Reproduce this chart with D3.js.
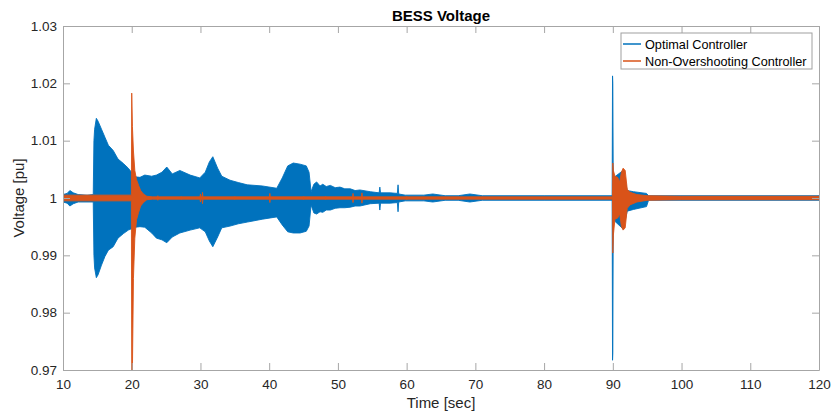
<!DOCTYPE html>
<html>
<head>
<meta charset="utf-8">
<script src="https://cdn.jsdelivr.net/npm/d3@7"></script>
<style>
  html, body { margin: 0; padding: 0; background: #fff; }
  svg { display: block; font-family: "Liberation Sans", Arial, sans-serif; }
</style>
</head>
<body>
<svg id="chart" width="835" height="417"></svg>
<script>
// Envelope of each controller's BESS voltage: [time (s), upper (pu), lower (pu)]
const optimalEnvelope = [
  [10.0, 1.0006, 0.9993], [10.6, 1.0008, 0.9991], [11.0, 1.0013, 0.9986], [11.5, 1.0009, 0.9990],
  [12.2, 1.0006, 0.9993], [13.5, 1.0005, 0.9993], [14.4, 1.0006, 0.9993], [14.5, 1.0100, 0.9900],
  [14.6, 1.0120, 0.9878], [14.85, 1.0139, 0.9861], [15.1, 1.0134, 0.9866], [15.6, 1.0120, 0.9883],
  [16.1, 1.0106, 0.9898], [16.6, 1.0092, 0.9909], [17.3, 1.0083, 0.9915], [18.0, 1.0068, 0.9930],
  [18.8, 1.0060, 0.9938], [19.5, 1.0052, 0.9944], [20.5, 1.0037, 0.9949], [21.2, 1.0036, 0.9950],
  [21.9, 1.0040, 0.9949], [22.9, 1.0038, 0.9939], [23.6, 1.0040, 0.9930], [24.4, 1.0045, 0.9927],
  [25.1, 1.0054, 0.9922], [25.9, 1.0042, 0.9932], [27.0, 1.0048, 0.9939], [28.5, 1.0040, 0.9944],
  [29.9, 1.0035, 0.9948], [30.7, 1.0045, 0.9941], [31.3, 1.0063, 0.9925], [31.8, 1.0072, 0.9915],
  [32.5, 1.0052, 0.9932], [33.1, 1.0038, 0.9948], [34.3, 1.0031, 0.9951], [35.5, 1.0027, 0.9955],
  [36.8, 1.0023, 0.9958], [39.0, 1.0021, 0.9963], [41.1, 1.0017, 0.9967], [41.9, 1.0035, 0.9953],
  [42.7, 1.0056, 0.9941], [43.5, 1.0061, 0.9939], [44.5, 1.0059, 0.9939], [45.4, 1.0056, 0.9942],
  [45.8, 1.0045, 0.9951], [46.1, 1.0011, 0.9988], [46.5, 1.0024, 0.9974], [46.9, 1.0028, 0.9972],
  [47.4, 1.0021, 0.9976], [47.8, 1.0024, 0.9975], [48.3, 1.0020, 0.9979], [48.9, 1.0022, 0.9979],
  [49.6, 1.0018, 0.9982], [50.3, 1.0019, 0.9983], [51.0, 1.0016, 0.9983], [51.8, 1.0016, 0.9984],
  [52.5, 1.0013, 0.9986], [53.2, 1.0014, 0.9986], [54.7, 1.0011, 0.9990], [56.0, 1.0009, 0.9991],
  [56.1, 1.0019, 0.9979], [56.2, 1.0009, 0.9991], [57.6, 1.0009, 0.9991], [58.65, 1.0008, 0.9992],
  [58.75, 1.0023, 0.9976], [58.85, 1.0007, 0.9993], [59.8, 1.0005, 0.9995], [62.5, 1.0005, 0.9995],
  [63.8, 1.0007, 0.9993], [65.6, 1.0004, 0.9996], [67.5, 1.0004, 0.9996], [69.2, 1.0007, 0.9993],
  [71.0, 1.0004, 0.9996], [80.0, 1.0004, 0.9996], [89.9, 1.0004, 0.9996], [89.96, 1.0213, 0.9717],
  [90.0, 1.0200, 0.9730], [90.06, 1.0035, 0.9962], [91.5, 1.0048, 0.9946], [92.1, 1.0013, 0.9977],
  [93.0, 1.0011, 0.9980], [94.9, 1.0008, 0.9985], [95.2, 1.0004, 0.9996], [120.0, 1.0004, 0.9996]
];

const nonOvershootingEnvelope = [
  [10.0, 1.0005, 0.9995], [19.95, 1.0005, 0.9995], [20.0, 1.0183, 0.9680], [20.1, 1.0125, 0.9700],
  [20.25, 1.0082, 0.9860], [20.45, 1.0048, 0.9930], [20.7, 1.0032, 0.9962], [21.0, 1.0022, 0.9975],
  [21.3, 1.0013, 0.9986], [21.7, 1.0007, 0.9992], [22.2, 1.0003, 0.9997], [23.0, 1.0002, 0.9998],
  [23.74, 1.0002, 0.9998], [23.8, 1.0004, 0.9996], [23.86, 1.0002, 0.9998],
  [27.14, 1.0002, 0.9998], [27.2, 1.0003, 0.9997], [27.26, 1.0002, 0.9998],
  [29.94, 1.0002, 0.9998], [30.0, 1.0007, 0.9993], [30.06, 1.0002, 0.9998],
  [30.24, 1.0002, 0.9998], [30.3, 1.0010, 0.9990], [30.36, 1.0002, 0.9998],
  [34.94, 1.0002, 0.9998], [35.0, 1.0003, 0.9997], [35.06, 1.0002, 0.9998],
  [40.04, 1.0002, 0.9998], [40.1, 1.0008, 0.9992], [40.16, 1.0002, 0.9998],
  [44.94, 1.0002, 0.9998], [45.0, 1.0003, 0.9997], [45.06, 1.0002, 0.9998],
  [48.14, 1.0002, 0.9998], [48.2, 1.0003, 0.9997], [48.26, 1.0002, 0.9998],
  [52.14, 1.0002, 0.9998], [52.2, 1.0008, 0.9992], [52.26, 1.0002, 0.9998],
  [53.44, 1.0002, 0.9998], [53.5, 1.0009, 0.9991], [53.56, 1.0002, 0.9998],
  [59.94, 1.0002, 0.9998], [60.0, 1.0003, 0.9997], [60.06, 1.0002, 0.9998],
  [89.95, 1.0002, 0.9998], [90.0, 1.0061, 0.9904], [90.08, 1.0048, 0.9935], [90.3, 1.0038, 0.9963],
  [90.7, 1.0036, 0.9965], [91.0, 1.0028, 0.9972], [91.25, 1.0045, 0.9950], [91.5, 1.0052, 0.9944],
  [91.8, 1.0048, 0.9948], [92.1, 1.0015, 0.9982], [92.5, 1.0010, 0.9988], [93.5, 1.0006, 0.9993],
  [95.0, 1.0004, 0.9996], [100.0, 1.0003, 0.9997], [120.0, 1.0003, 0.9997]
];

const xTicks = [10, 20, 30, 40, 50, 60, 70, 80, 90, 100, 110, 120];
const yTicks = [0.97, 0.98, 0.99, 1.0, 1.01, 1.02, 1.03];

const seriesNames = ["Optimal Controller", "Non-Overshooting Controller"];
const seriesColors = ["#0072BD", "#D95319"];

const svg = d3.select("#chart");
const plotLeft = 63, plotRight = 819, plotTop = 26, plotBottom = 370;

const x = d3.scaleLinear().domain([10, 120]).range([plotLeft, plotRight]);
const y = d3.scaleLinear().domain([0.97, 1.03]).range([plotBottom, plotTop]);

const axisColor = "#a6a6a6";
const textColor = "#262626";

svg.append("defs").append("clipPath").attr("id", "plotClip")
  .append("rect").attr("x", plotLeft).attr("y", plotTop)
  .attr("width", plotRight - plotLeft).attr("height", plotBottom - plotTop);

// Voltage envelopes
const area = d3.area()
  .x(d => x(d[0]))
  .y0(d => y(d[2]))
  .y1(d => y(d[1]));

const plot = svg.append("g").attr("clip-path", "url(#plotClip)");
[optimalEnvelope, nonOvershootingEnvelope].forEach((env, i) => {
  plot.append("path")
    .datum(env)
    .attr("d", area)
    .attr("fill", seriesColors[i])
    .attr("stroke", seriesColors[i])
    .attr("stroke-width", 0.9)
    .attr("stroke-linejoin", "round");
});

// Axes with inward ticks on all four sides
const tickLen = 7;
const bottomAxis = d3.axisBottom(x).tickValues(xTicks).tickSizeInner(-tickLen).tickSizeOuter(0)
  .tickPadding(9).tickFormat(d3.format("d"));
const topAxis = d3.axisTop(x).tickValues(xTicks).tickSizeInner(-tickLen).tickSizeOuter(0).tickFormat("");
const leftAxis = d3.axisLeft(y).tickValues(yTicks).tickSizeInner(-tickLen).tickSizeOuter(0)
  .tickPadding(6).tickFormat(d => d3.format("~g")(+d.toFixed(2)));
const rightAxis = d3.axisRight(y).tickValues(yTicks).tickSizeInner(-tickLen).tickSizeOuter(0).tickFormat("");

function styleAxis(g) {
  g.select(".domain").attr("stroke", axisColor).attr("stroke-width", 1);
  g.selectAll(".tick line").attr("stroke", axisColor).attr("stroke-width", 1);
  g.selectAll(".tick text").attr("fill", textColor)
    .style("font-family", "'Liberation Sans', Arial, sans-serif")
    .style("font-size", "13.5px");
}

svg.append("g").attr("transform", `translate(0,${plotBottom})`).call(bottomAxis).call(styleAxis);
svg.append("g").attr("transform", `translate(0,${plotTop})`).call(topAxis).call(styleAxis);
svg.append("g").attr("transform", `translate(${plotLeft},0)`).call(leftAxis).call(styleAxis);
svg.append("g").attr("transform", `translate(${plotRight},0)`).call(rightAxis).call(styleAxis);

// Title and axis labels
svg.append("text")
  .attr("x", (plotLeft + plotRight) / 2).attr("y", 21)
  .attr("text-anchor", "middle")
  .attr("fill", "#000")
  .style("font-size", "15px").style("font-weight", "bold")
  .text("BESS Voltage");

svg.append("text")
  .attr("x", (plotLeft + plotRight) / 2).attr("y", 408)
  .attr("text-anchor", "middle")
  .attr("fill", textColor)
  .style("font-size", "15px")
  .text("Time [sec]");

svg.append("text")
  .attr("transform", `translate(24,${(plotTop + plotBottom) / 2}) rotate(-90)`)
  .attr("text-anchor", "middle")
  .attr("fill", textColor)
  .style("font-size", "15px")
  .text("Voltage [pu]");

// Legend
const legend = svg.append("g").attr("transform", "translate(621,33)");
legend.append("rect")
  .attr("width", 191).attr("height", 36)
  .attr("fill", "#fff").attr("stroke", "#a0a0a0").attr("stroke-width", 1);
seriesNames.forEach((name, i) => {
  const row = legend.append("g").attr("transform", `translate(0,${11 + i * 17})`);
  row.append("line").attr("x1", 2).attr("x2", 20).attr("y1", 0).attr("y2", 0)
    .attr("stroke", seriesColors[i]).attr("stroke-width", 1.5);
  row.append("text").attr("x", 24).attr("y", 4.5)
    .attr("fill", "#000")
    .style("font-size", "12.7px")
    .text(name);
});
</script>
</body>
</html>
